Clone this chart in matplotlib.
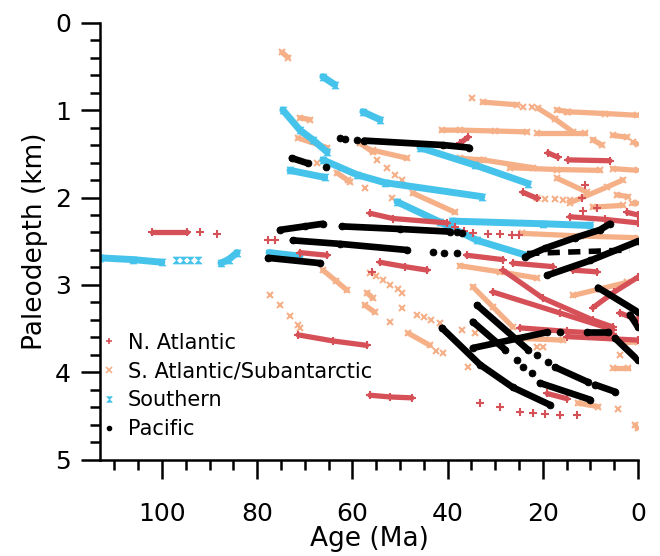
import matplotlib
matplotlib.use('Agg')
import matplotlib.pyplot as plt
from matplotlib.path import Path
from matplotlib.lines import Line2D
from matplotlib.ticker import MultipleLocator

# Backtracked site tracks, (age Ma, paleodepth km)
natl_tracks = [
    [(102, 2.40), (94.7, 2.40)],
    [(71, 2.63), (65.3, 2.66)],
    [(54.2, 2.74), (49, 2.79), (44.3, 2.83)],
    [(56.3, 2.18), (51.5, 2.24), (40.1, 2.29)],
    [(71.4, 3.57), (64, 3.64), (57, 3.69)],
    [(56.3, 4.26), (52, 4.28), (47.5, 4.29)],
    [(37.4, 1.38), (35.7, 1.31)],
    [(36, 2.66), (28.4, 2.71)],
    [(26.3, 2.75), (17.9, 2.79)],
    [(13.7, 2.83), (8.6, 2.85)],
    [(28.4, 2.83), (20, 3.15), (9.5, 3.40), (5.3, 3.48)],
    [(30.5, 3.08), (16.4, 3.32), (5.3, 3.51)],
    [(24.8, 3.49), (15, 3.53), (5.3, 3.56)],
    [(9.5, 3.26), (5, 3.08), (0, 2.91)],
    [(14.9, 3.59), (0, 3.63)],
    [(3.8, 3.32), (0, 3.40)],
    [(19.1, 4.24), (14.9, 4.30)],
    [(18.9, 1.49), (16.8, 1.54)],
    [(14.7, 1.57), (5.9, 1.58)],
    [(24.2, 1.94), (21.2, 2.01)],
    [(14.3, 2.22), (7, 2.25), (0, 2.29)],
    [(2.3, 2.17), (0, 2.20)],
]
natl_pts = [
    (92, 2.40), (88.4, 2.42), (77.7, 2.49), (76.3, 2.49), (55.9, 2.85),
    (38.5, 2.34), (36.5, 2.38), (34.7, 2.41), (31.5, 2.42), (29, 2.42),
    (26.5, 2.43), (25, 2.43),
    (33.2, 4.35), (29, 4.39), (24.8, 4.45), (22, 4.46), (19.5, 4.47),
    (16.4, 4.49), (12.8, 4.49),
    (11.1, 1.86), (11.8, 2.00), (11.6, 2.15), (8.6, 2.12),
]

satl_tracks = [
    [(74.8, 0.34), (73.5, 0.40)],
    [(71, 1.09), (68.9, 1.11)],
    [(71.4, 1.32), (65.3, 1.43)],
    [(63.2, 1.72), (60.5, 1.82)],
    [(58.4, 1.38), (55.7, 1.48)],
    [(55.7, 1.46), (48.5, 1.55)],
    [(47.3, 1.95), (38.4, 2.17)],
    [(32.6, 0.91), (25.4, 0.94)],
    [(21, 0.98), (17.5, 1.10), (13.7, 1.25)],
    [(17, 1.00), (14.7, 1.02)],
    [(14.9, 1.02), (7, 1.04), (0.2, 1.06)],
    [(41.2, 1.23), (37.4, 1.23), (30, 1.24), (23.3, 1.25)],
    [(21.2, 1.26), (11.1, 1.26)],
    [(9.5, 1.34), (7.6, 1.40)],
    [(5.3, 1.29), (2.3, 1.31)],
    [(1, 1.37), (0, 1.39)],
    [(37.4, 1.55), (33.2, 1.57)],
    [(32.6, 1.57), (22, 1.66)],
    [(26.9, 1.66), (17, 1.68), (8, 1.69)],
    [(5.3, 1.67), (0, 1.69)],
    [(17, 1.78), (10.7, 1.94)],
    [(14.3, 2.06), (6.5, 1.88), (3.2, 1.80)],
    [(4.4, 1.97), (2.1, 1.99)],
    [(1.3, 2.06), (0, 2.06)],
    [(9.5, 2.11), (3.2, 2.09)],
    [(24.4, 2.41), (12, 2.44), (0, 2.46)],
    [(37.4, 2.78), (29, 2.85), (21.2, 2.92)],
    [(13.7, 3.12), (2.3, 2.97)],
    [(24.8, 3.61), (15.8, 3.63)],
    [(3.2, 3.66), (0, 3.65)],
    [(5.3, 3.95), (2.1, 3.95)],
    [(0.6, 4.60), (0, 4.64)],
    [(12.6, 4.35), (8.4, 4.39)],
    [(34.7, 3.02), (30.5, 3.25), (26.3, 3.48)],
    [(48.3, 3.55), (43.7, 3.69)],
    [(66.2, 2.83), (63.5, 2.95), (61.1, 3.06)],
    [(57.4, 3.23), (55.3, 3.31)],
    [(56.9, 3.09), (55.7, 3.15)],
]
satl_pts = [
    (4.2, 4.42), (3.8, 3.80),
    (56.3, 2.86), (55, 2.90), (53.5, 2.94), (52, 3.00), (50.5, 3.05), (49.5, 3.09),
    (49.6, 3.26), (52.1, 3.42), (46.4, 3.34), (45, 3.37), (43.5, 3.40), (41.6, 3.44),
    (42.5, 3.75), (41, 3.78), (37, 3.51), (35.7, 3.94), (34.2, 3.55),
    (21.2, 3.71), (20, 3.71),
    (77.3, 3.11), (75.2, 3.23), (73.1, 3.36), (71.4, 3.46), (71, 3.49),
    (54.8, 1.57), (52.7, 1.66), (51, 1.74), (49.6, 1.80),
    (60.9, 1.80), (57.4, 1.89), (51.7, 2.00), (67.4, 1.60),
    (34.9, 0.86), (24.2, 0.97), (22.3, 0.97),
    (21.2, 2.01), (19.5, 2.02), (17.5, 2.02), (15.8, 2.03), (14.3, 2.03),
]

south_tracks = [
    [(113, 2.69), (106, 2.71), (100, 2.74)],
    [(87.6, 2.75), (86, 2.71), (84.2, 2.63)],
    [(77.5, 2.63), (71, 2.67)],
    [(66.2, 0.62), (63.7, 0.71)],
    [(57.8, 1.02), (54.2, 1.11)],
    [(74.6, 1.00), (71, 1.23), (68.3, 1.34), (65.3, 1.48)],
    [(73.1, 1.69), (65.8, 1.77)],
    [(66.2, 1.57), (59, 1.74), (53.2, 1.83), (32.8, 1.99)],
    [(45.8, 1.43), (34.2, 1.63), (23.1, 1.84)],
    [(50.6, 2.05), (41.6, 2.28), (33.8, 2.49), (23.5, 2.66)],
    [(39, 2.27), (20, 2.30), (10, 2.32)],
]
south_pts = [(97, 2.71), (95.5, 2.71), (94, 2.71), (92.5, 2.71)]

pac_tracks = [
    [(72.7, 1.55), (69.3, 1.61)],
    [(57.5, 1.35), (41, 1.40), (35.5, 1.43)],
    [(75.2, 2.37), (70, 2.33), (66.2, 2.30)],
    [(62.2, 2.33), (50, 2.36), (39.5, 2.39)],
    [(72.5, 2.49), (62.6, 2.53), (48.5, 2.60)],
    [(23.7, 2.68), (19.5, 2.58), (13.2, 2.46), (8, 2.37), (5.9, 2.30)],
    [(19.1, 2.89), (10, 2.72), (0, 2.50)],
    [(77.7, 2.69), (66.8, 2.75)],
    [(41.2, 3.49), (33.2, 3.91), (26.3, 4.17), (18.5, 4.37)],
    [(33.8, 3.23), (23.1, 3.74)],
    [(34.7, 3.42), (27.9, 3.74)],
    [(17.4, 3.94), (10.5, 4.11)],
    [(9.0, 4.14), (4.8, 4.22)],
    [(20.6, 4.12), (10.1, 4.31)],
    [(34.7, 3.72), (19.1, 3.54)],
    [(10.7, 3.54), (6.3, 3.54)],
    [(8.4, 3.03), (0, 3.31)],
    [(1.7, 3.34), (0, 3.48)],
    [(4.8, 3.61), (0, 3.86)],
]
pac_dashed = [(23.3, 2.64), (1.7, 2.60)]
pac_pts = [
    (65.5, 1.65), (62.5, 1.32), (61.5, 1.33), (59, 1.34),
    (38, 2.40), (37, 2.41), (43, 2.62), (40.8, 2.63), (38, 2.64),
    (25.4, 3.86), (24.2, 3.94), (22.3, 4.01), (21.2, 3.80), (18.9, 3.88),
    (16.4, 3.54),
]

labels = ['N. Atlantic', 'S. Atlantic/Subantarctic', 'Southern', 'Pacific']
c_natl = '#d65058'
c_satl = '#f5b088'
c_south = '#46c3eb'
c_pac = 'black'

hourglass = Path([(-1, 1), (1, 1), (-1, -1), (1, -1), (-1, 1)],
                 [Path.MOVETO, Path.LINETO, Path.LINETO, Path.LINETO, Path.CLOSEPOLY])

fig = plt.figure(figsize=(6.6, 5.56), dpi=100)
ax = fig.add_axes([0.1515, 0.1727, 0.8152, 0.7868])


def draw(tracks, pts, color, marker, lw, ms, mew=1.5):
    for tr in tracks:
        a, d = zip(*tr)
        ax.plot(a, d, color=color, lw=lw, marker=marker, ms=ms, mew=mew,
                solid_capstyle='round')
    if pts:
        a, d = zip(*pts)
        ax.plot(a, d, color=color, ls='none', marker=marker, ms=ms, mew=mew)


draw(satl_tracks, satl_pts, c_satl, 'x', 3.8, 5)
draw(south_tracks, south_pts, c_south, hourglass, 5.0, 5, 0.5)
draw(natl_tracks, natl_pts, c_natl, '+', 3.8, 6)
draw(pac_tracks, pac_pts, c_pac, 'o', 4.8, 5, 0.5)
a, d = zip(*pac_dashed)
ax.plot(a, d, color=c_pac, lw=4, ls=(0, (2.2, 1.5)))

ax.set_xlim(113, 0)
ax.set_ylim(5, 0)
ax.xaxis.set_major_locator(MultipleLocator(20))
ax.xaxis.set_minor_locator(MultipleLocator(5))
ax.yaxis.set_major_locator(MultipleLocator(1))
ax.yaxis.set_minor_locator(MultipleLocator(0.2))
ax.spines['top'].set_visible(False)
ax.spines['right'].set_visible(False)
for s in ['left', 'bottom']:
    ax.spines[s].set_linewidth(1.8)
ax.tick_params(which='major', direction='out', length=14, width=1.8, labelsize=18)
ax.tick_params(which='minor', direction='out', length=7, width=1.8)
ax.tick_params(axis='x', which='major', pad=16)
ax.tick_params(axis='y', which='major', pad=7)
ax.set_xlabel('Age (Ma)', fontsize=19, labelpad=0)
ax.set_ylabel('Paleodepth (km)', fontsize=19, labelpad=5)

handles = [
    Line2D([], [], color=c_natl, marker='+', ls='none', ms=5, mew=1.2),
    Line2D([], [], color=c_satl, marker='x', ls='none', ms=4, mew=1.2),
    Line2D([], [], color=c_south, marker=hourglass, ls='none', ms=4, mew=0.5),
    Line2D([], [], color=c_pac, marker='o', ls='none', ms=3),
]
ax.legend(handles, labels, loc='upper left', bbox_to_anchor=(-0.01, 0.31),
          frameon=False, fontsize=15, handlelength=0.6, handletextpad=0.6,
          labelspacing=0.42, borderaxespad=0)

fig.savefig('out.png', dpi=100)
